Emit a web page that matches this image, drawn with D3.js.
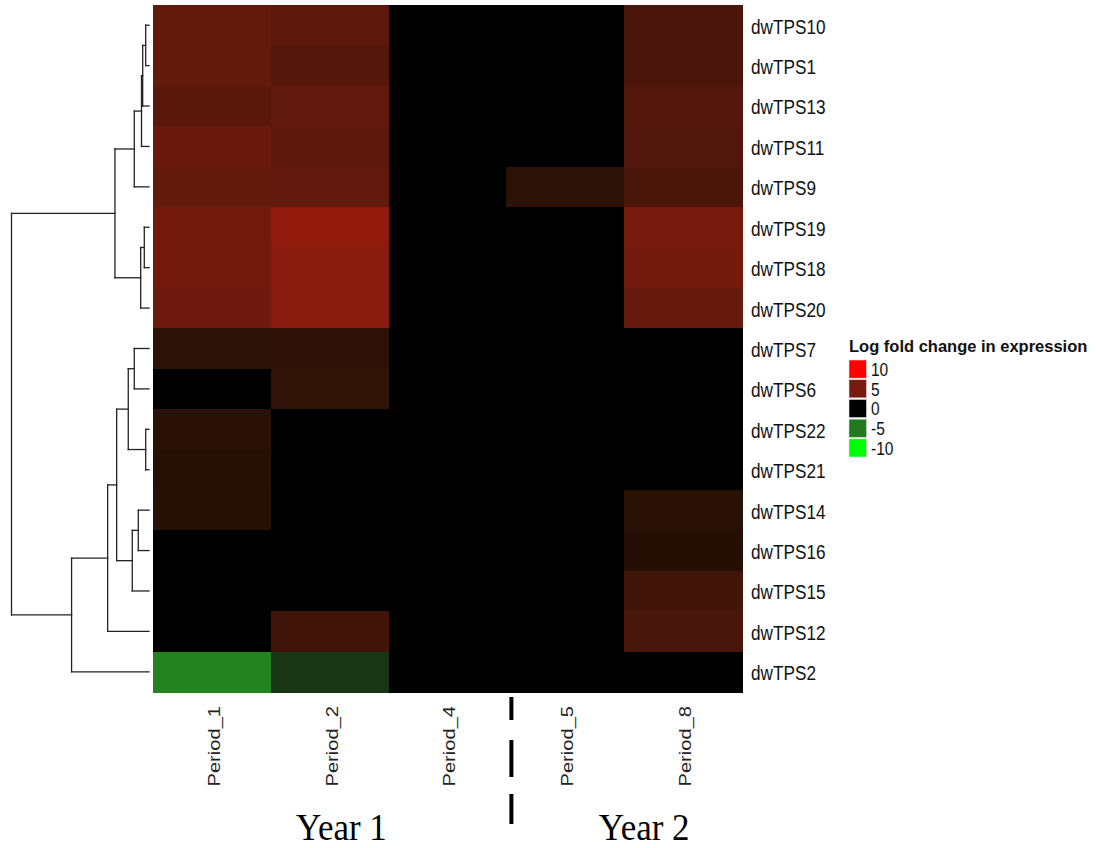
<!DOCTYPE html>
<html>
<head>
<meta charset="utf-8">
<script src="https://cdn.jsdelivr.net/npm/d3@7"></script>
<style>
  body { margin: 0; background: #fff; }
  svg { display: block; }
  text { font-family: Arial, "Liberation Sans", sans-serif; }
</style>
</head>
<body>
<div id="chart"></div>
<script>
var width = 1096;
var height = 848;

// rows, top to bottom as in the clustered order
var genes = ["dwTPS10", "dwTPS1", "dwTPS13", "dwTPS11", "dwTPS9", "dwTPS19", "dwTPS18", "dwTPS20",
  "dwTPS7", "dwTPS6", "dwTPS22", "dwTPS21", "dwTPS14", "dwTPS16", "dwTPS15", "dwTPS12", "dwTPS2"];

var periods = ["Period_1", "Period_2", "Period_4", "Period_5", "Period_8"];

// log fold change, one list per gene (same order as periods)
var values = [
  [4.1, 3.8, 0, 0, 3.0],
  [4.1, 3.4, 0, 0, 3.0],
  [3.7, 4.0, 0, 0, 3.4],
  [4.4, 3.8, 0, 0, 3.3],
  [4.1, 4.0, 0, 1.6, 3.1],
  [4.7, 5.9, 0, 0, 4.9],
  [4.7, 5.6, 0, 0, 4.8],
  [4.5, 5.6, 0, 0, 4.2],
  [1.6, 1.7, 0, 0, 0],
  [0, 1.8, 0, 0, 0],
  [1.5, 0, 0, 0, 0],
  [1.35, 0, 0, 0, 0],
  [1.4, 0, 0, 0, 1.5],
  [0, 0, 0, 0, 1.3],
  [0, 0, 0, 0, 2.6],
  [0, 2.6, 0, 0, 2.9],
  [-5.4, -2.2, 0, 0, 0]
];

// hclust style merges: [left, right, height]; "m3" = result of merge 3
var merges = [
  ["dwTPS10", "dwTPS1", 3.3],
  ["m0", "dwTPS13", 6.3],
  ["m1", "dwTPS11", 7.5],
  ["m2", "dwTPS9", 14.7],
  ["dwTPS19", "dwTPS18", 4.7],
  ["m4", "dwTPS20", 8.3],
  ["m3", "m5", 34],
  ["dwTPS7", "dwTPS6", 14.7],
  ["dwTPS22", "dwTPS21", 3.3],
  ["m7", "m8", 20.7],
  ["dwTPS14", "dwTPS16", 10.7],
  ["m10", "dwTPS15", 16.7],
  ["m9", "m11", 32.3],
  ["m12", "dwTPS12", 41.3],
  ["m13", "dwTPS2", 77.3],
  ["m6", "m14", 137.3]
];

var legendValues = [10, 5, 0, -5, -10];
var legendTitle = "Log fold change in expression";
var yearLabels = ["Year 1", "Year 2"];

var svg = d3.select("#chart").append("svg")
  .attr("width", width)
  .attr("height", height);

var x = d3.scaleBand().domain(periods).range([153, 742]);
var y = d3.scaleBand().domain(genes).range([5, 692]);

var color = d3.scaleLinear()
  .domain([-10, -5, 0, 5, 10])
  .range(["#00ff00", "#227a1f", "#000000", "#7a1a0e", "#ff0000"])
  .interpolate(d3.interpolateLab)
  .clamp(true);

// heatmap cells
var cells = [];
genes.forEach(function(g, i) {
  periods.forEach(function(p, j) {
    cells.push({gene: g, period: p, value: values[i][j]});
  });
});

svg.append("g")
  .attr("shape-rendering", "crispEdges")
  .selectAll("rect")
  .data(cells)
  .enter().append("rect")
  .attr("x", function(d) { return x(d.period); })
  .attr("y", function(d) { return y(d.gene); })
  .attr("width", x.bandwidth() + 1)
  .attr("height", y.bandwidth() + 1)
  .attr("fill", function(d) { return color(d.value); });

// row labels (text in the source is a bit stretched vertically)
svg.append("g").selectAll("text")
  .data(genes)
  .enter().append("text")
  .attr("transform", function(d) {
    return "translate(751," + (y(d) + y.bandwidth() / 2 + 1.5) + ") scale(1,1.15)";
  })
  .attr("dominant-baseline", "central")
  .attr("font-size", "17.2px")
  .attr("fill", "#111")
  .text(function(d) { return d; });

// column labels
svg.append("g").selectAll("text")
  .data(periods)
  .enter().append("text")
  .attr("transform", function(d) {
    return "translate(" + (x(d) + x.bandwidth() / 2 + 2) + ",706) scale(1,1.17) rotate(-90)";
  })
  .attr("text-anchor", "end")
  .attr("dominant-baseline", "central")
  .attr("font-size", "17.2px")
  .attr("fill", "#222")
  .text(function(d) { return d; });

// dendrogram
var h = d3.scaleLinear().domain([0, 137.3]).range([149, 11.5]);
var nodes = {};
genes.forEach(function(g) {
  nodes[g] = {y: y(g) + y.bandwidth() / 2, h: 0};
});
var segs = [];
merges.forEach(function(m, i) {
  var a = nodes[m[0]], b = nodes[m[1]];
  var xm = h(m[2]);
  segs.push([xm, a.y, xm, b.y]);
  segs.push([xm, a.y, h(a.h), a.y]);
  segs.push([xm, b.y, h(b.h), b.y]);
  nodes["m" + i] = {y: (a.y + b.y) / 2, h: m[2]};
});

svg.append("g").selectAll("line")
  .data(segs)
  .enter().append("line")
  .attr("x1", function(d) { return d[0]; })
  .attr("y1", function(d) { return d[1]; })
  .attr("x2", function(d) { return d[2]; })
  .attr("y2", function(d) { return d[3]; })
  .attr("stroke", "#222")
  .attr("stroke-width", 1.3)
  .attr("stroke-linecap", "square");

// legend
var legend = svg.append("g").attr("transform", "translate(849,360)");
legend.append("text")
  .attr("x", 0)
  .attr("y", -8)
  .attr("font-size", "16.5px")
  .attr("font-weight", "bold")
  .attr("fill", "#111")
  .text(legendTitle);

var ly = d3.scaleBand().domain(legendValues).range([0, 97]).paddingInner(0.08);
legend.selectAll("rect")
  .data(legendValues)
  .enter().append("rect")
  .attr("x", 0)
  .attr("y", function(d) { return ly(d); })
  .attr("width", 17.5)
  .attr("height", ly.bandwidth())
  .attr("fill", function(d) { return color(d); })
  .attr("stroke", "#ddd")
  .attr("stroke-width", 0.6);

legend.selectAll("text.lab")
  .data(legendValues)
  .enter().append("text")
  .attr("class", "lab")
  .attr("transform", function(d) {
    return "translate(22," + (ly(d) + ly.bandwidth() / 2 + 1) + ") scale(1,1.18)";
  })
  .attr("dominant-baseline", "central")
  .attr("font-size", "15.5px")
  .attr("fill", "#111")
  .text(function(d) { return d; });

// year split annotation
var splitX = x("Period_5") + 5;
svg.append("line")
  .attr("x1", splitX).attr("x2", splitX)
  .attr("y1", 697).attr("y2", 826)
  .attr("stroke", "#000")
  .attr("stroke-width", 4)
  .attr("stroke-dasharray", "23,20,37,17,30");

var yearX = [x("Period_2") + x.bandwidth() * 0.6, x("Period_5") + x.bandwidth() * 1.17];
svg.append("g").selectAll("text")
  .data(yearLabels)
  .enter().append("text")
  .attr("transform", function(d, i) {
    return "translate(" + yearX[i] + ",840) scale(1,1.1)";
  })
  .attr("text-anchor", "middle")
  .style("font-family", "'Liberation Serif', 'DejaVu Serif', serif")
  .attr("font-size", "35px")
  .attr("fill", "#000")
  .text(function(d) { return d; });
</script>
</body>
</html>
